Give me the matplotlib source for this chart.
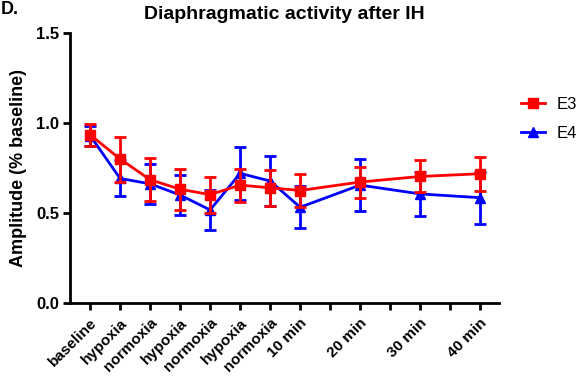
import numpy as np
import matplotlib
matplotlib.use("Agg")
import matplotlib.pyplot as plt
from matplotlib.lines import Line2D

plt.rcParams['font.family'] = ['Liberation Sans', 'DejaVu Sans']

# data
labels = ["baseline", "hypoxia", "normoxia", "hypoxia", "normoxia", "hypoxia",
          "normoxia", "10 min", "20 min", "30 min", "40 min"]
xpos = [0, 1, 2, 3, 4, 5, 6, 7, 9, 11, 13]

e3_mean = [0.935, 0.80, 0.685, 0.632, 0.602, 0.655, 0.640, 0.625, 0.672, 0.703, 0.718]
e3_err = [0.06, 0.125, 0.12, 0.115, 0.10, 0.092, 0.10, 0.093, 0.086, 0.089, 0.093]
e4_mean = [0.930, 0.692, 0.662, 0.600, 0.517, 0.720, 0.678, 0.532, 0.655, 0.606, 0.585]
e4_err = [0.055, 0.10, 0.11, 0.11, 0.11, 0.145, 0.14, 0.117, 0.145, 0.12, 0.145]

red = '#ff0000'
blue = '#0000ff'

fig = plt.figure(figsize=(5.88, 3.84), dpi=100)
ax = fig.add_axes([70/588, 81/384, 429/588, 270/384])

ax.errorbar(xpos, e4_mean, yerr=e4_err, color=blue, marker='^', markersize=6.5,
            lw=2, capsize=4, capthick=2, elinewidth=2, zorder=2)
ax.errorbar(xpos, e3_mean, yerr=e3_err, color=red, marker='s', markersize=6.5,
            lw=2, capsize=4, capthick=2, elinewidth=2, zorder=3)

ax.set_xlim(-0.67, 13.63)
ax.set_ylim(0, 1.5)
ax.set_yticks([0, 0.5, 1.0, 1.5])
ax.set_yticklabels(["0.0", "0.5", "1.0", "1.5"], fontsize=12, fontweight='bold')
ax.set_xticks(xpos)
ax.set_xticks([i for i in range(14) if i not in xpos], minor=True)
ax.set_xticklabels(labels, rotation=45, ha='right', rotation_mode='anchor',
                   fontsize=11, fontweight='bold')
ax.tick_params(axis='both', which='both', direction='out', width=2, length=5, pad=3)
ax.tick_params(axis='x', which='major', pad=4)

for s in ['top', 'right']:
    ax.spines[s].set_visible(False)
for s in ['left', 'bottom']:
    ax.spines[s].set_linewidth(2)

ax.set_ylabel("Amplitude (% baseline)", fontsize=13, fontweight='bold', labelpad=6)
ax.set_title("Diaphragmatic activity after IH", fontsize=14, fontweight='bold', pad=10)

handles = [Line2D([], [], color=red, marker='s', markersize=6.5, lw=2),
           Line2D([], [], color=blue, marker='^', markersize=6.5, lw=2)]
fig.legend(handles, ["E3", "E4"], loc='upper left', bbox_to_anchor=(508/588, 1 - 84/384),
           frameon=False, fontsize=12, handlelength=1.4, handletextpad=0.7,
           borderpad=0.3, labelspacing=0.8)

fig.text(0.002, 0.975, "D.", fontsize=13, fontweight='bold', va='center')

fig.savefig("out.png", dpi=100)
